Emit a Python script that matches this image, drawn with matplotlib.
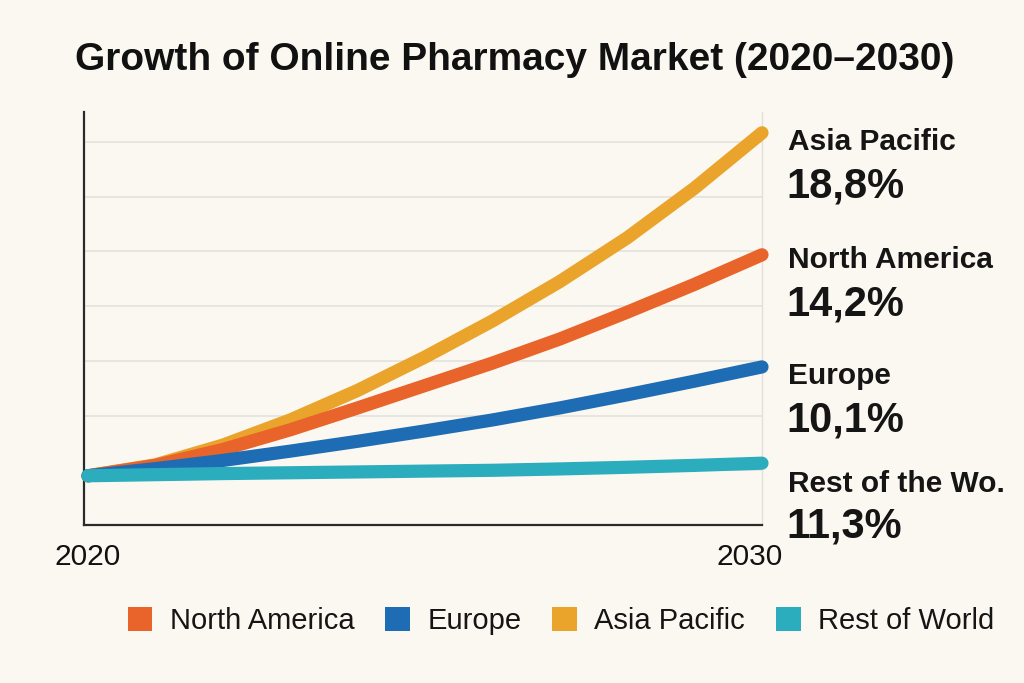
import matplotlib

matplotlib.use("Agg")
import matplotlib.pyplot as plt  # noqa: E402
import matplotlib.transforms as mtransforms  # noqa: E402
from matplotlib.patches import Patch  # noqa: E402

plt.rcParams["font.family"] = ["Liberation Sans", "DejaVu Sans"]

# market index (arbitrary units, the source shows no y labels)
years = [2020, 2021, 2022, 2023, 2024, 2025, 2026, 2027, 2028, 2029, 2030]
north_america = [9.0, 10.9, 13.8, 17.4, 21.4, 25.5, 29.6, 34.0, 38.9, 44.0, 49.4]
europe = [9.0, 10.3, 11.8, 13.5, 15.3, 17.2, 19.2, 21.4, 23.8, 26.3, 28.9]
asia_pacific = [9.0, 11.0, 14.6, 19.2, 24.6, 30.7, 37.3, 44.5, 52.5, 61.6, 71.7]
rest_of_world = [9.0, 9.2, 9.4, 9.55, 9.7, 9.85, 10.0, 10.25, 10.55, 10.9, 11.3]

legend_names = ["North America", "Europe", "Asia Pacific", "Rest of World"]
end_names = ["North America", "Europe", "Asia Pacific", "Rest of the Wo."]
cagr = ["14,2%", "10,1%", "18,8%", "11,3%"]

BG = "#FBF8F1"
colors = ["#E8642A", "#1E6CB4", "#EAA42B", "#2BADBE"]

fig = plt.figure(figsize=(10.24, 6.83), dpi=100, facecolor=BG)
ax = fig.add_axes([84 / 1024, 158 / 683, 678 / 1024, 413 / 683], facecolor=BG)

series = [north_america, europe, asia_pacific, rest_of_world]
draw_order = [2, 0, 1, 3]
for z, i in enumerate(draw_order):
    ax.plot(years, series[i], color=colors[i], lw=9.5, solid_capstyle="round",
            solid_joinstyle="round", clip_on=False, zorder=3 + z)

ax.set_xlim(2020 - 4 / 67.4, 2030)
ax.set_ylim(0, 75.5)
ax.set_yticks([10, 20, 30, 40, 50, 60, 70])
ax.set_yticklabels([])
ax.tick_params(axis="y", length=0)
ax.grid(axis="y", color="#E2E0DA", lw=1.1, zorder=0)
ax.set_xticks([2020, 2030])
ax.set_xticklabels(["2020", "2030"], fontsize=21.5, color="#111111")
ax.tick_params(axis="x", length=0, pad=13)
shift = mtransforms.ScaledTranslation(-0.12, 0, fig.dpi_scale_trans)
last = ax.get_xticklabels()[-1]
last.set_transform(last.get_transform() + shift)

for side in ["left", "bottom"]:
    ax.spines[side].set_color("#2A2A2A")
    ax.spines[side].set_linewidth(1.6)
ax.spines["top"].set_visible(False)
ax.spines["right"].set_color("#E2E0DA")
ax.spines["right"].set_linewidth(1.0)

# end labels: name + growth rate, pixel rows from the layout
name_rows = [260, 376, 142, 484]
pct_rows = [305, 420, 187, 527]
for name, pct, yn, yp in zip(end_names, cagr, name_rows, pct_rows):
    fig.text(788 / 1024, 1 - yn / 683, name, fontsize=21.5, fontweight="bold",
             color="#151515", va="center", ha="left")
    fig.text(786 / 1024, 1 - yp / 683, pct, fontsize=30, fontweight="bold",
             color="#151515", va="center", ha="left")

fig.text(515 / 1024, 1 - 60 / 683, "Growth of Online Pharmacy Market (2020–2030)",
         fontsize=28, fontweight="bold", color="#111111", ha="center", va="center")

handles = [Patch(facecolor=c, edgecolor="none") for c in colors]
fig.legend(handles, legend_names, loc="center", bbox_to_anchor=(561 / 1024, 1 - 621 / 683),
           ncol=4, frameon=False, fontsize=21, handlelength=0.85, handleheight=0.85,
           handletextpad=0.6, columnspacing=1.05, labelcolor="#151515")

fig.savefig("out.png", dpi=100, facecolor=BG)
